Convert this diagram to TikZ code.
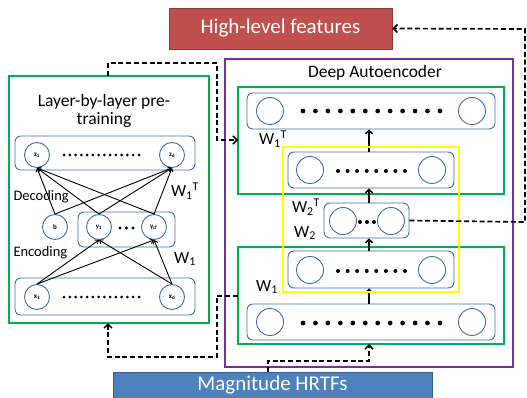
\documentclass[tikz,border=0pt]{standalone}
\usepackage{fontspec}
\setmainfont{Carlito}
\usetikzlibrary{arrows.meta,calc}
\definecolor{hred}{HTML}{C0504D}
\definecolor{hredb}{HTML}{8C3836}
\definecolor{hblue}{HTML}{4F81BD}
\definecolor{hblueb}{HTML}{385D8A}
\definecolor{nodeblue}{HTML}{3F6DAA}
\definecolor{gbox}{HTML}{00B050}
\definecolor{pbox}{HTML}{7030A0}
\definecolor{ybox}{HTML}{FFFF00}
\begin{document}
\begin{tikzpicture}[x=1pt,y=-1pt,
  neuron/.style={circle,draw=nodeblue,line width=0.9pt,minimum size=27pt,inner sep=0pt},
  sneuron/.style={circle,draw=nodeblue,line width=0.9pt,minimum size=25pt,inner sep=0pt,font=\fontsize{7}{8}\selectfont\bfseries},
  layerbox/.style={draw=nodeblue,rounded corners=6pt,line width=0.9pt,inner sep=0pt},
  grnbox/.style={draw=gbox,line width=2.4pt},
  dashlink/.style={line width=1.7pt,dash pattern=on 5pt off 2.8pt},
  dasharr/.style={dashlink,-{Straight Barb[length=4pt,width=8pt,line width=1.5pt]}},
  arr/.style={line width=1.3pt,-{Straight Barb[length=3.5pt,width=7pt]}},
  larr/.style={line width=0.9pt,-{Straight Barb[length=3pt,width=5pt]}},
  wlab/.style={font=\fontsize{17}{19}\selectfont},
  dotbig/.style={circle,fill=black,inner sep=0pt,minimum size=4.8pt},
  dotsmall/.style={circle,fill=black,inner sep=0pt,minimum size=3pt}]
\useasboundingbox (0,0) rectangle (527,398);

% ---------- top and bottom boxes ----------
\node[draw=hredb,fill=hred,line width=0.8pt,minimum width=223pt,minimum height=41pt,inner sep=0pt,
      text=white,font=\fontsize{21}{23}\selectfont] (hl) at (280.5,28.5) {High-level features};
\node[draw=hblueb,fill=hblue,line width=0.8pt,minimum width=319pt,minimum height=27pt,inner sep=0pt,
      anchor=north west] (hrtf) at (113,372) {};
\node[text=white,font=\fontsize{21}{23}\selectfont] (hrtft) at (272.5,385.5) {Magnitude HRTFs};

% ---------- Deep autoencoder ----------
\draw[draw=pbox,line width=2pt] (225,59) rectangle (513,367);
\node[font=\fontsize{17.5}{19}\selectfont] (datitle) at (375,73) {Deep Autoencoder};
\draw[grnbox] (238,87) coordinate (ug) rectangle (504,194);
\draw[grnbox] (238,247) coordinate (lgtl) rectangle (504,344) coordinate (lgbr);
\coordinate (lgleft) at (238,296);
\coordinate (lgbot) at (369,344);
\coordinate (ugleft) at (238,140);

% rows
\node[layerbox,minimum width=248pt,minimum height=36pt] (R4) at (371,111) {};
\node[layerbox,minimum width=166pt,minimum height=36pt] (R3) at (371,170) {};
\node[layerbox,minimum width=85pt,minimum height=35pt] (R2) at (366.5,220.5) {};
\node[layerbox,minimum width=166pt,minimum height=37pt] (R1) at (371,269.5) {};
\node[layerbox,minimum width=248pt,minimum height=36pt] (R0) at (371,322) {};

\node[neuron] (a4l) at (270,111) {};
\node[neuron] (a4r) at (472,111) {};
\node[neuron] (a3l) at (310,170) {};
\node[neuron] (a3r) at (432,170) {};
\node[neuron] (a2l) at (343,221) {};
\node[neuron] (a2r) at (391,221) {};
\node[neuron] (a1l) at (310,270) {};
\node[neuron] (a1r) at (432,270) {};
\node[neuron] (a0l) at (270,322) {};
\node[neuron] (a0r) at (472,322) {};

\foreach \i in {0,...,11}{
  \node[dotbig] (d4\i) at ({303+\i*12.45},111) {};
  \node[dotbig] (d0\i) at ({303+\i*12.45},323) {};
}
\foreach \i in {0,...,7}{
  \node[dotsmall,minimum size=4pt] (d3\i) at ({338+\i*9.57},171) {};
  \node[dotsmall,minimum size=4pt] (d1\i) at ({338+\i*9.57},271) {};
}
\foreach \i in {0,1,2}{
  \node[dotsmall,minimum size=4pt] (d2\i) at ({360+\i*7},222) {};
}

\draw[arr] (R0.north -| lgbot) -- (R1.south -| lgbot);
\draw[arr] (R1.north -| lgbot) -- (R2.south -| lgbot);
\draw[arr] (R2.north -| lgbot) -- (R3.south -| lgbot);
\draw[arr] (R3.north -| lgbot) -- (R4.south -| lgbot);

\draw[draw=ybox,line width=2.4pt] (283,147) rectangle (459,292);

\node[wlab] (w1t) at (273,139) {W\textsubscript{1}\textsuperscript{T}};
\node[wlab] (w2t) at (306,207) {W\textsubscript{2}\textsuperscript{T}};
\node[wlab] (w2) at (305,233) {W\textsubscript{2}};
\node[wlab] (w1) at (267,287) {W\textsubscript{1}};

% ---------- Left pre-training box ----------
\draw[grnbox] (9,76) rectangle (209,323);
\coordinate (lgtop) at (108,76);
\coordinate (lgbottom) at (108,323);
\node[align=center,font=\fontsize{17.5}{18.5}\selectfont] (lbtitle) at (104,111) {Layer-by-layer pre-\\training};

\node[layerbox,minimum width=180pt,minimum height=34pt] (Z) at (105,153) {};
\node[layerbox,minimum width=97pt,minimum height=35pt] (Y) at (126.5,229.5) {};
\node[layerbox,minimum width=180pt,minimum height=37pt] (X) at (105,296.5) {};

\node[sneuron] (z1) at (37,155) {z\textsubscript{1}};
\node[sneuron] (zd) at (172,155) {z\textsubscript{d}};
\node[sneuron] (b) at (55,227) {b};
\node[sneuron] (y1) at (99,227) {y\textsubscript{1}};
\node[sneuron] (yd) at (154,227) {y\textsubscript{d'}};
\node[sneuron] (x1) at (37,297) {x\textsubscript{1}};
\node[sneuron] (xd) at (172,297) {x\textsubscript{d}};

\foreach \i in {0,...,13}{
  \node[dotsmall] (dz\i) at ({64+\i*5.77},155) {};
  \node[dotsmall] (dx\i) at ({64+\i*5.77},297) {};
}
\foreach \i in {0,1,2}{
  \node[dotsmall,minimum size=3.4pt] (dy\i) at ({120+\i*6.5},228) {};
}

\foreach \s in {x1,xd}{
  \foreach \t in {y1,yd}{
    \draw[larr] (\s.north) -- (\t.south);
  }
}
\foreach \s in {b,y1,yd}{
  \foreach \t in {z1,zd}{
    \draw[larr] (\s.north) -- (\t.south);
  }
}

\node[font=\fontsize{14.5}{16}\selectfont,anchor=west] (dec) at (10,197) {Decoding};
\node[font=\fontsize{14.5}{16}\selectfont,anchor=west] (enc) at (10,253) {Encoding};
\node[wlab] (lw1t) at (185,191) {W\textsubscript{1}\textsuperscript{T}};
\node[wlab] (lw1) at (185,259) {W\textsubscript{1}};

% ---------- dashed connectors ----------
\draw[dasharr] (lgtop) -- (108,63) -- (217,63) -- (217,140) -- (ugleft);
\draw[dasharr] (lgleft) -- (217,296) -- (217,357) -- (108,357) -- (lgbottom);
\draw[dasharr] (hrtf.north -| 268,0) -- (268,361) -- (369,361) -- (lgbot);
\draw[dasharr] (R2.east) -- (525,222) -- (525,29) -- (hl.east);
\end{tikzpicture}
\end{document}
